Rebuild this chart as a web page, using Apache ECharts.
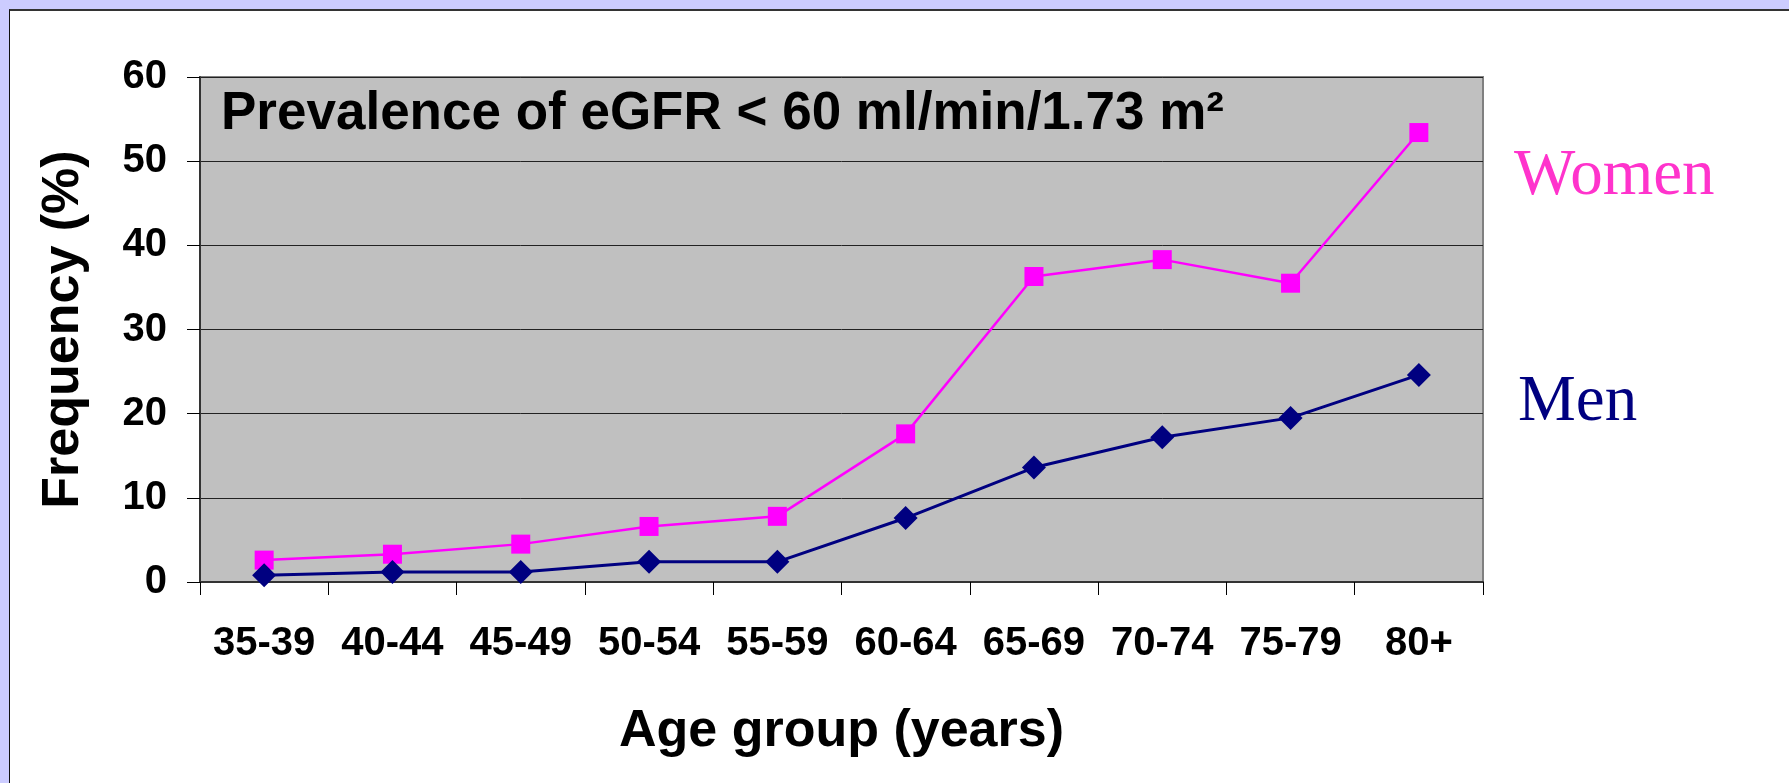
<!DOCTYPE html>
<html>
<head>
<meta charset="utf-8">
<script src="https://cdn.jsdelivr.net/npm/echarts@6/dist/echarts.min.js"></script>
<style>
  html, body { margin: 0; padding: 0; background: #CCCCFF; width: 1789px; height: 783px; overflow: hidden; }
  #frame { position: absolute; left: 9px; top: 9px; width: 1780px; height: 774px; background: #FFFFFF;
           border-left: 1px solid #111; border-top: 2px solid #333; box-sizing: border-box; }
  #chart { position: absolute; left: 0; top: 0; width: 1789px; height: 783px; }
</style>
</head>
<body>
<div id="frame"></div>
<div id="chart"></div>
<script>
const categories = ['35-39', '40-44', '45-49', '50-54', '55-59', '60-64', '65-69', '70-74', '75-79', '80+'];
const women = [2.6, 3.3, 4.5, 6.6, 7.8, 17.6, 36.3, 38.3, 35.5, 53.4];
const men = [0.8, 1.2, 1.2, 2.4, 2.4, 7.6, 13.6, 17.2, 19.5, 24.6];
const chartTitle = 'Prevalence of eGFR < 60 ml/min/1.73 m\u00B2';
const xTitle = 'Age group (years)';
const yTitle = 'Frequency (%)';
const womenLabel = 'Women';
const menLabel = 'Men';

const sans = '"Liberation Sans", Arial, sans-serif';
const serif = '"Liberation Serif", "Times New Roman", serif';

const chart = echarts.init(document.getElementById('chart'), null, { renderer: 'canvas' });
chart.setOption({
  backgroundColor: 'transparent',
  animation: false,
  title: {
    text: chartTitle,
    left: 221,
    top: 88,
    padding: 0,
    textStyle: { fontFamily: sans, fontWeight: 'bold', fontSize: 53, color: '#000' }
  },
  grid: {
    left: 200, top: 77, width: 1283, height: 505,
    show: true, backgroundColor: '#C0C0C0', borderColor: '#808080', borderWidth: 2
  },
  xAxis: {
    type: 'category',
    data: categories,
    boundaryGap: true,
    axisLine: { lineStyle: { color: '#333', width: 2 } },
    axisTick: { show: true, length: 13, lineStyle: { color: '#000', width: 1 } },
    axisLabel: { fontFamily: sans, fontWeight: 'bold', fontSize: 40, color: '#000', margin: 42, interval: 0 },
    name: xTitle,
    nameLocation: 'middle',
    nameGap: 124,
    nameTextStyle: { fontFamily: sans, fontWeight: 'bold', fontSize: 52, color: '#000' }
  },
  yAxis: {
    type: 'value',
    min: 0, max: 60, interval: 10,
    axisLine: { show: true, lineStyle: { color: '#333', width: 2 } },
    axisTick: { show: true, length: 13, lineStyle: { color: '#000', width: 1 } },
    axisLabel: { fontFamily: sans, fontWeight: 'bold', fontSize: 40, color: '#000', margin: 33 },
    splitLine: { show: true, lineStyle: { color: '#222', width: 1 } },
    name: yTitle,
    nameLocation: 'middle',
    nameGap: 110,
    nameRotate: 90,
    nameTextStyle: { fontFamily: sans, fontWeight: 'bold', fontSize: 52, color: '#000' }
  },
  graphic: [
    { type: 'text', left: 1514, top: 144,
      style: { text: womenLabel, fontFamily: serif, fontSize: 65, fill: '#FF33CC' } },
    { type: 'text', left: 1518, top: 370,
      style: { text: menLabel, fontFamily: serif, fontSize: 65, fill: '#000080' } }
  ],
  series: [
    {
      name: 'Women', type: 'line', data: women,
      symbol: 'rect', symbolSize: 19,
      lineStyle: { color: '#FF00FF', width: 2.5 },
      itemStyle: { color: '#FF00FF' }
    },
    {
      name: 'Men', type: 'line', data: men,
      symbol: 'diamond', symbolSize: 24,
      lineStyle: { color: '#000080', width: 3 },
      itemStyle: { color: '#000080' }
    }
  ]
});
</script>
</body>
</html>
